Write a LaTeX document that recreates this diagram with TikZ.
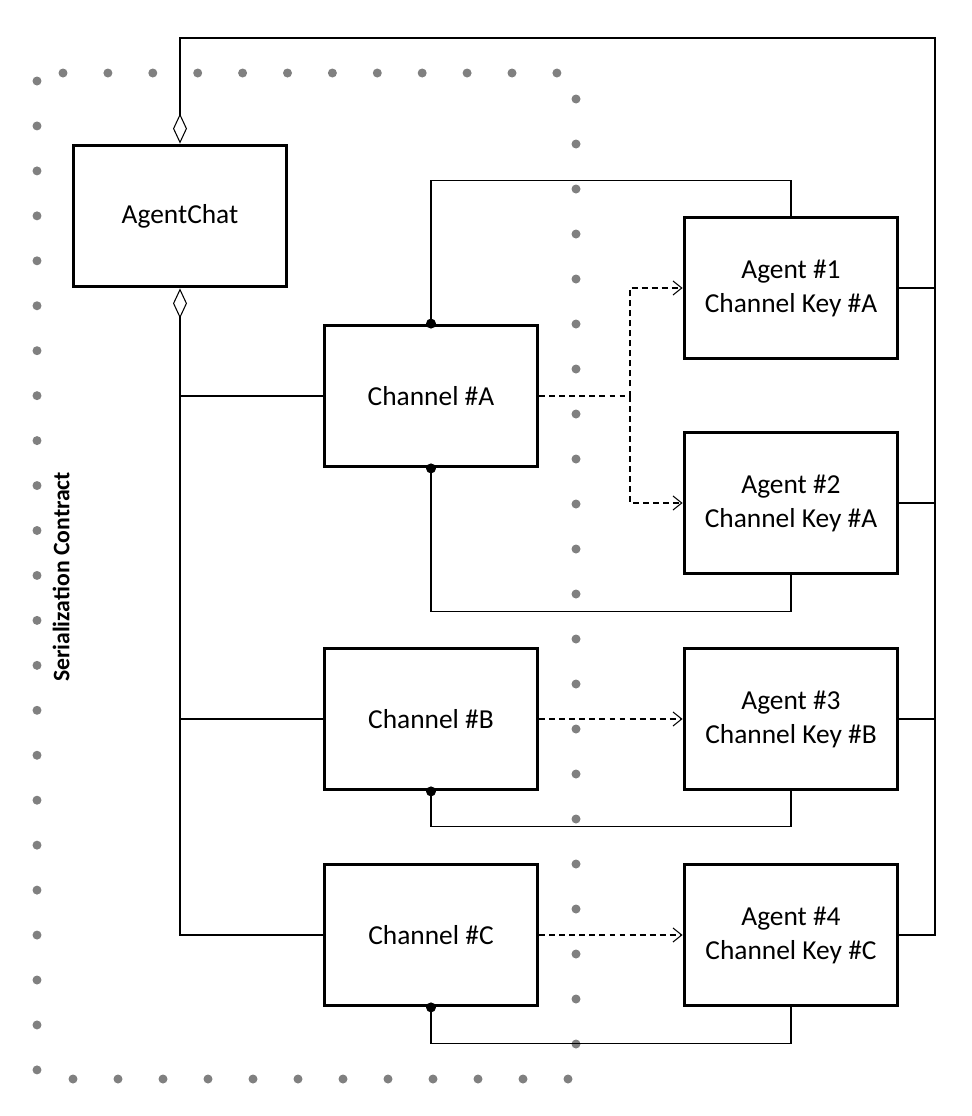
\documentclass[tikz,border=0pt]{standalone}
\usepackage{fontspec}
\setmainfont{Carlito}
\usetikzlibrary{arrows.meta}

\begin{document}
\begin{tikzpicture}[x=0.02cm,y=-0.02cm,
  box/.style={draw,line width=1.9pt,minimum width=4.27cm,minimum height=2.83cm,
    align=center,font=\fontsize{15.6}{19.3}\selectfont},
  wire/.style={line width=0.6pt},
  flow/.style={line width=0.6pt,dash pattern=on 3.4pt off 2.3pt,
    -{Straight Barb[length=5pt,width=8pt]}},
  owner/.style={{Diamond[open,length=0.6cm,width=0.28cm]}-},
  joint/.style={fill=black},
  dotgray/.style={fill=black!50}]

\useasboundingbox (0,0) rectangle (972,1116);

% ===== Serialization boundary (dots) =====
\foreach \k in {0,...,22} {
    \fill[dotgray] (37,81+44.95*\k) circle[radius=0.09cm];
}
\foreach \k in {0,...,11} {
    \fill[dotgray] (63+44.9*\k,73) circle[radius=0.09cm];
    \fill[dotgray] (73+45*\k,1079) circle[radius=0.09cm];
}
\foreach \k in {0,...,21} {
    \fill[dotgray] (576,99+45*\k) circle[radius=0.09cm];
}

\node[rotate=90,font=\bfseries\fontsize{13.5}{16}\selectfont] (contract) at (61,577) {Serialization Contract};

% ===== Boxes =====
\node[box] (chat) at (180,216) {AgentChat};

\node[box] (chA) at (431,396) {Channel \#A};
\node[box] (chB) at (431,719) {Channel \#B};
\node[box] (chC) at (431,935) {Channel \#C};

\node[box] (ag1) at (791,288) {Agent \#1\\Channel Key \#A};
\node[box] (ag2) at (791,503) {Agent \#2\\Channel Key \#A};
\node[box] (ag3) at (791,719) {Agent \#3\\Channel Key \#B};
\node[box] (ag4) at (791,935) {Agent \#4\\Channel Key \#C};

% ===== AgentChat -> agents =====
\coordinate (rail) at (935,38);
\draw[wire,owner] (chat.north) |- (rail) -- (ag4.east -| rail) -- (ag4.east);
\draw[wire] (ag1.east) -- (ag1.east -| rail);
\draw[wire] (ag2.east) -- (ag2.east -| rail);
\draw[wire] (ag3.east) -- (ag3.east -| rail);

% ===== AgentChat -> channels =====
\draw[wire,owner] (chat.south) |- (chC.west);
\draw[wire] (chA.west) -- (chA.west -| chat.south);
\draw[wire] (chB.west) -- (chB.west -| chat.south);

% ===== Channel -> agent links =====
\draw[wire] (chA.north) -- ++(0,-143) -| (ag1.north);
\draw[wire] (chA.south) -- ++(0,143) -| (ag2.south);
\draw[wire] (chB.south) -- ++(0,35) -| (ag3.south);
\draw[wire] (chC.south) -- ++(0,36) -| (ag4.south);

\fill[joint] (chA.north) circle[radius=0.1cm];
\fill[joint] (chA.south) circle[radius=0.1cm];
\fill[joint] (chB.south) circle[radius=0.1cm];
\fill[joint] (chC.south) circle[radius=0.1cm];

% ===== Dashed flows =====
\coordinate (split) at (630,396);
\draw[flow] (chA.east) -- (split) |- (ag1.west);
\draw[flow] (split) |- (ag2.west);
\draw[flow] (chB.east) -- (ag3.west);
\draw[flow] (chC.east) -- (ag4.west);

\end{tikzpicture}
\end{document}
